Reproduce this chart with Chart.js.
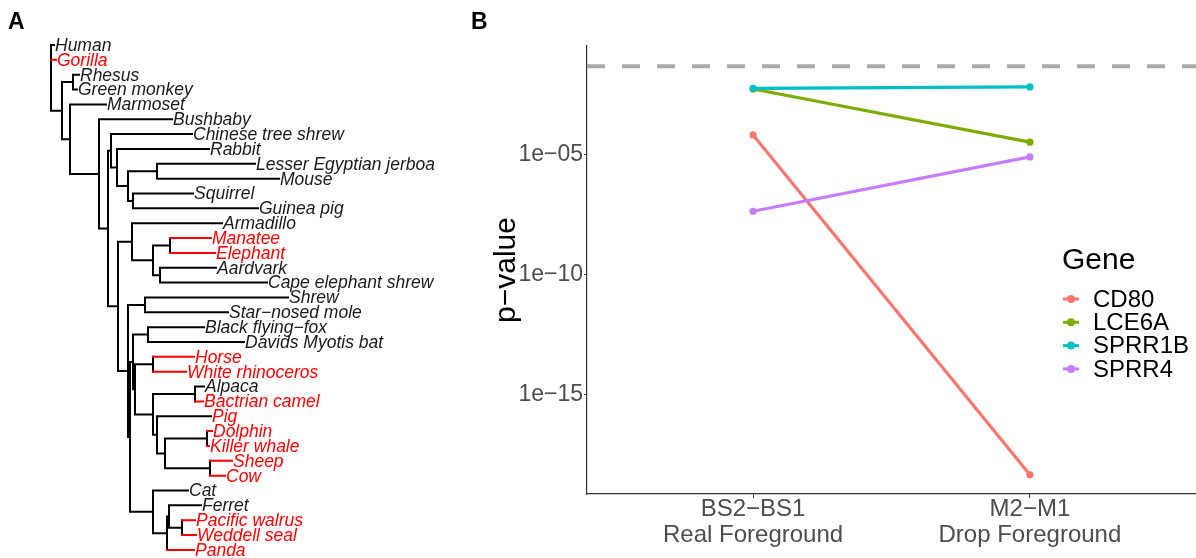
<!DOCTYPE html>
<html>
<head>
<meta charset="utf-8">
<script src="https://cdn.jsdelivr.net/npm/chart.js@4.4.1/dist/chart.umd.min.js"></script>
<style>
  html, body { margin: 0; padding: 0; background: #fff; }
  #wrap { position: relative; width: 1196px; height: 558px; overflow: hidden; font-family: "Liberation Sans", Arial, sans-serif; }
  canvas { position: absolute; top: 0; }
  #treeCanvas { left: 0; }
  #pvalCanvas { left: 470px; }
  .panel { position: absolute; font-weight: bold; font-size: 23px; line-height: 1.15; }
</style>
</head>
<body>
<div id="wrap">
  <canvas id="treeCanvas" width="470" height="558"></canvas>
  <canvas id="pvalCanvas" width="726" height="558"></canvas>
  <div class="panel" style="left:8px;top:8px">A</div>
  <div class="panel" style="left:471px;top:8px">B</div>
</div>
<script>
const FONT = '"Liberation Sans", Arial, sans-serif';

// ---- panel A : species tree ----
const taxa = ['Human', 'Gorilla', 'Rhesus', 'Green monkey', 'Marmoset', 'Bushbaby',
  'Chinese tree shrew', 'Rabbit', 'Lesser Egyptian jerboa', 'Mouse', 'Squirrel', 'Guinea pig',
  'Armadillo', 'Manatee', 'Elephant', 'Aardvark', 'Cape elephant shrew', 'Shrew',
  'Star\u2212nosed mole', 'Black flying\u2212fox', 'Davids Myotis bat', 'Horse', 'White rhinoceros',
  'Alpaca', 'Bactrian camel', 'Pig', 'Dolphin', 'Killer whale', 'Sheep', 'Cow', 'Cat', 'Ferret',
  'Pacific walrus', 'Weddell seal', 'Panda'];
// depth of each tip (distance from root)
const tipDepth = [3, 5, 28, 26, 55, 121, 141, 158, 204, 228, 142, 207, 171, 160, 164, 165, 216, 237,
  177, 153, 193, 143, 135, 153, 152, 160, 161, 158, 181, 174, 137, 150, 144, 145, 143];
const redLabel = ['Gorilla', 'Manatee', 'Elephant', 'Horse', 'White rhinoceros', 'Bactrian camel', 'Pig',
  'Dolphin', 'Killer whale', 'Sheep', 'Cow', 'Pacific walrus', 'Weddell seal', 'Panda'];
const redBranch = redLabel.filter(t => t !== 'Pig');

// internal nodes: id, depth, children
const nodeIds = ['n01', 'n02', 'n03', 'n04', 'n05', 'n06', 'n07', 'n08', 'n09', 'n10', 'n11', 'n12',
  'n13', 'n14', 'n15', 'n16', 'n17', 'n18', 'n19', 'n20', 'n21', 'n22', 'n23', 'n24', 'n25', 'n26',
  'n27', 'n28', 'n29', 'n30', 'n31', 'n32', 'n33'];
const nodeDepth = [0, 11, 22, 19, 48, 57, 60, 66, 77, 106, 82, 67, 81, 102, 119, 109, 77, 94, 79, 82,
  97, 84, 102, 102, 144, 106, 114, 156, 159, 102, 116, 118, 131];
const nodeKids = [
  ['Human', 'Gorilla', 'n02'],
  ['n03', 'n04'],
  ['Rhesus', 'Green monkey'],
  ['Marmoset', 'n05'],
  ['Bushbaby', 'n06'],
  ['n07', 'n12'],
  ['Chinese tree shrew', 'n08'],
  ['Rabbit', 'n09'],
  ['n10', 'n11'],
  ['Lesser Egyptian jerboa', 'Mouse'],
  ['Squirrel', 'Guinea pig'],
  ['n13', 'n17'],
  ['Armadillo', 'n14'],
  ['n15', 'n16'],
  ['Manatee', 'Elephant'],
  ['Aardvark', 'Cape elephant shrew'],
  ['n18', 'n19'],
  ['Shrew', 'Star\u2212nosed mole'],
  ['n20', 'n30'],
  ['n21', 'n22'],
  ['Black flying\u2212fox', 'Davids Myotis bat'],
  ['n23', 'n24'],
  ['Horse', 'White rhinoceros'],
  ['n25', 'n26'],
  ['Alpaca', 'Bactrian camel'],
  ['Pig', 'n27'],
  ['n28', 'n29'],
  ['Dolphin', 'Killer whale'],
  ['Sheep', 'Cow'],
  ['Cat', 'n31'],
  ['n32', 'Panda'],
  ['Ferret', 'n33'],
  ['Pacific walrus', 'Weddell seal']
];

function posOf(id) {
  const t = taxa.indexOf(id);
  if (t >= 0) return { x: tipDepth[t], y: t };
  const k = nodeIds.indexOf(id);
  const ys = nodeKids[k].map(c => posOf(c).y);
  return { x: nodeDepth[k], y: (Math.min(...ys) + Math.max(...ys)) / 2 };
}

const blackPts = [];
const redPts = [];
function addSeg(arr, a, b) { arr.push(a, b, { x: b.x, y: null }); }
nodeIds.forEach((id, k) => {
  const p = posOf(id);
  const kids = nodeKids[k].map(posOf);
  const ys = kids.map(c => c.y);
  addSeg(blackPts, { x: p.x, y: Math.min(...ys) }, { x: p.x, y: Math.max(...ys) });
  kids.forEach((c, j) => {
    const arr = redBranch.includes(nodeKids[k][j]) ? redPts : blackPts;
    addSeg(arr, { x: p.x, y: c.y }, { x: c.x, y: c.y });
  });
});

const tipLabels = {
  id: 'tipLabels',
  afterDatasetsDraw(chart) {
    const { ctx, scales: { x, y } } = chart;
    ctx.save();
    ctx.font = 'italic 17.5px ' + FONT;
    ctx.textBaseline = 'middle';
    taxa.forEach((name, i) => {
      ctx.fillStyle = redLabel.includes(name) ? '#ff0000' : '#1a1a1a';
      ctx.fillText(name, x.getPixelForValue(tipDepth[i]) + 1, y.getPixelForValue(i) + 1);
    });
    ctx.restore();
  }
};

new Chart(document.getElementById('treeCanvas'), {
  type: 'line',
  data: {
    datasets: [
      { data: redPts, borderColor: '#ff0000', borderWidth: 2, pointRadius: 0, borderCapStyle: 'square', order: 1 },
      { data: blackPts, borderColor: '#000000', borderWidth: 2, pointRadius: 0, borderCapStyle: 'square', order: 2 }
    ]
  },
  options: {
    responsive: false,
    animation: false,
    events: [],
    layout: { padding: 0, autoPadding: false },
    plugins: { legend: { display: false }, tooltip: { enabled: false } },
    scales: {
      x: { type: 'linear', min: -51, max: 419, display: false },
      y: { type: 'linear', min: -3.03, max: 34.545, reverse: true, display: false }
    }
  },
  plugins: [tipLabels]
});

// ---- panel B : p-values ----
const comparisons = ['BS2\u2212BS1', 'M2\u2212M1'];
const foregrounds = ['Real Foreground', 'Drop Foreground'];
const genes = ['CD80', 'LCE6A', 'SPRR1B', 'SPRR4'];
const geneColors = ['#F8766D', '#7CAE00', '#00BFC4', '#C77CFF'];
const pCD80 = [6.8e-5, 4.7e-19];
const pLCE6A = [5.6e-3, 3.4e-5];
const pSPRR1B = [6.0e-3, 6.8e-3];
const pSPRR4 = [4.5e-8, 8.3e-6];
const pCutoff = 0.05;
const yTicks = [1e-5, 1e-10, 1e-15];
const yTickLabels = ['1e\u221205', '1e\u221210', '1e\u221215'];

const series = [pCD80, pLCE6A, pSPRR1B, pSPRR4];
const geneSets = genes.map((g, i) => ({
  label: g,
  data: series[i].map((p, j) => ({ x: j + 1, y: p })),
  borderColor: geneColors[i],
  backgroundColor: geneColors[i],
  borderWidth: 3.2,
  pointRadius: 3.6,
  pointBorderWidth: 0,
  order: genes.length - i
}));

const xMin = 0.4, xMax = 2.6;
const cutoffSet = {
  label: 'cutoff',
  data: [{ x: xMin, y: pCutoff }, { x: xMax, y: pCutoff }],
  borderColor: '#aaaaaa',
  borderWidth: 4,
  borderDash: [18, 17],
  pointRadius: 0,
  order: 10
};

const geneLegend = {
  id: 'geneLegend',
  afterDraw(chart) {
    const ctx = chart.ctx;
    ctx.save();
    ctx.fillStyle = '#000';
    ctx.textBaseline = 'middle';
    ctx.font = '30px ' + FONT;
    ctx.fillText('Gene', 592, 261);
    ctx.font = '24px ' + FONT;
    genes.forEach((g, i) => {
      const cy = 299 + i * 23.3;
      ctx.strokeStyle = geneColors[i];
      ctx.lineWidth = 3;
      ctx.beginPath();
      ctx.moveTo(593, cy);
      ctx.lineTo(609, cy);
      ctx.stroke();
      ctx.fillStyle = geneColors[i];
      ctx.beginPath();
      ctx.arc(601, cy, 4, 0, Math.PI * 2);
      ctx.fill();
      ctx.fillStyle = '#000';
      ctx.fillText(g, 623, cy + 1);
    });
    ctx.restore();
  }
};

new Chart(document.getElementById('pvalCanvas'), {
  type: 'line',
  data: { datasets: [cutoffSet].concat(geneSets) },
  options: {
    responsive: false,
    animation: false,
    events: [],
    layout: { padding: { top: 46, left: 0, right: 0, bottom: 0 }, autoPadding: false },
    plugins: { legend: { display: false }, tooltip: { enabled: false } },
    scales: {
      x: {
        type: 'linear', min: xMin, max: xMax,
        afterBuildTicks: s => { s.ticks = comparisons.map((c, i) => ({ value: i + 1 })); },
        afterFit: s => { s.height = 64; },
        ticks: {
          callback: (v, i) => [comparisons[i], foregrounds[i]],
          color: '#4d4d4d', font: { family: FONT, size: 24, lineHeight: 1.1 },
          padding: -2, maxRotation: 0, autoSkip: false
        },
        grid: { display: true, drawOnChartArea: false, drawTicks: true, tickLength: 4, color: '#333' },
        border: { display: true, color: '#333', width: 1.2 }
      },
      y: {
        type: 'logarithmic', min: Math.pow(10, -19.13), max: Math.pow(10, -0.46),
        afterBuildTicks: s => { s.ticks = yTicks.map(v => ({ value: v })); },
        afterFit: s => { s.width = 117; },
        ticks: {
          callback: (v, i) => yTickLabels[i],
          color: '#4d4d4d', font: { family: FONT, size: 23 }, padding: 1, autoSkip: false
        },
        grid: { display: true, drawOnChartArea: false, drawTicks: true, tickLength: 3, color: '#333' },
        border: { display: true, color: '#333', width: 1.2 },
        title: { display: true, text: 'p\u2212value', color: '#000', font: { family: FONT, size: 30 }, padding: { top: 19 } }
      }
    }
  },
  plugins: [geneLegend]
});
</script>
</body>
</html>
